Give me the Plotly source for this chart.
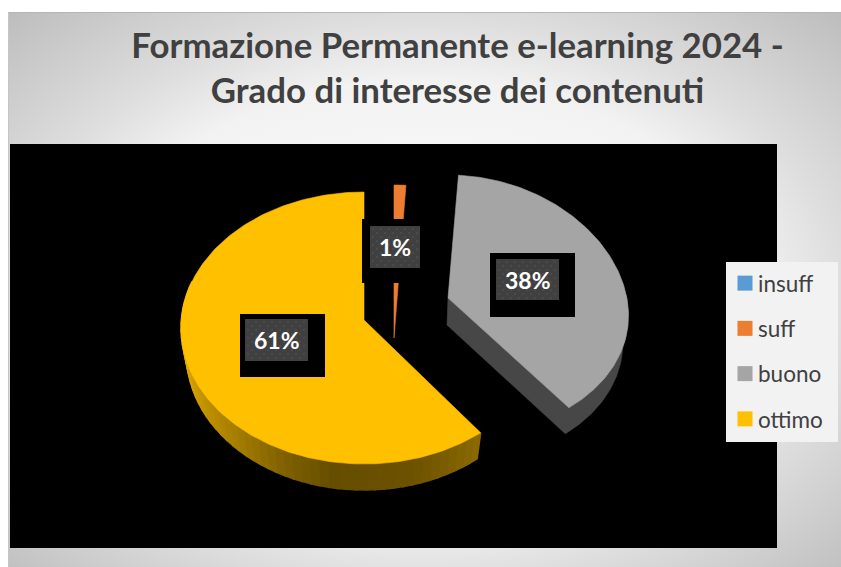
import base64
import math
import plotly.graph_objects as go

# ---- data ----
categories = ["insuff", "suff", "buono", "ottimo"]
values = [0, 1, 38, 61]
colors = ["#5B9BD5", "#ED7D31", "#A5A5A5", "#FFC000"]
title_lines = ["Formazione Permanente e-learning 2024 -", "Grado di interesse dei contenuti"]

# ---- drawing geometry (an exploded, tilted pie in page pixels) ----
W, H = 841, 567
GEOM = {  # apex, ellipse centre, radii, perspective
    "suff":   dict(ax=394, ay=338, cx=394, cy=326, rx=190, ry=141, p=0.0),
    "buono":  dict(ax=448, ay=298, cx=448, cy=306.5, rx=180, ry=131.5, p=0.07),
    "ottimo": dict(ax=364, ay=320, cx=364, cy=328, rx=183, ry=136, p=0.0),
}
DEPTH = 26
BOTTOM_SCALE = 0.97
LABEL_BOXES = {  # black box, dark box
    "suff":   ((362, 219, 434, 283), (370, 226, 420, 268)),
    "buono":  ((490, 253, 575, 317), (496, 259, 559, 300)),
    "ottimo": ((240, 314, 325, 377), (245, 319, 308, 361)),
}


def pt(g, deg, bottom=False):
    t = math.radians(deg)
    s = BOTTOM_SCALE if bottom else 1.0
    dy = DEPTH if bottom else 0
    m = 1 - g["p"] * math.cos(t)
    return g["cx"] + g["rx"] * s * math.sin(t) * m, g["cy"] + dy - g["ry"] * math.cos(t)


def arc(g, a0, a1, bottom=False, step=1.0):
    n = max(2, int(abs(a1 - a0) / step) + 1)
    return [pt(g, a0 + (a1 - a0) * i / (n - 1), bottom) for i in range(n)]


# slice angles from the values, clockwise from 12 o'clock
total = sum(values)
angles = {}
acc = 0.0
for c, v in zip(categories, values):
    angles[c] = (acc, acc + 360.0 * v / total)
    acc += 360.0 * v / total

fig = go.Figure()


def poly(points, color, name=None, lw=0.6):
    fig.add_trace(go.Scatter(
        x=[p[0] for p in points] + [points[0][0]],
        y=[p[1] for p in points] + [points[0][1]],
        mode="lines", line=dict(width=lw, color=color), fill="toself", fillcolor=color,
        hoverinfo="skip", showlegend=False, name=name))


def lerp_color(stops, x):
    for (x0, c0), (x1, c1) in zip(stops, stops[1:]):
        if x0 <= x <= x1:
            f = (x - x0) / (x1 - x0)
            return "rgb(%d,%d,%d)" % tuple(round(a + (b - a) * f) for a, b in zip(c0, c1))
    return "rgb(%d,%d,%d)" % stops[-1][1]


# black plot panel
poly([(10, 144), (777, 144), (777, 548), (10, 548)], "#000000", lw=0)

# ottimo: curved rim with metallic shading, then the top face
g = GEOM["ottimo"]
a0, a1 = angles["ottimo"]
rim_stops = [(a0, (140, 106, 0)), (165, (108, 82, 0)), (190, (102, 78, 0)), (205, (125, 95, 0)),
             (225, (165, 125, 0)), (250, (205, 155, 0)), (275, (235, 178, 0)), (290, (245, 185, 0))]
deg = a0
while deg < 290:
    nxt = min(deg + 3, 290)
    poly(arc(g, deg, nxt) + arc(g, nxt, deg, True), lerp_color(rim_stops, (deg + nxt) / 2), lw=1.5)
    deg = nxt
poly([(g["ax"], g["ay"])] + arc(g, a0, a1), colors[3], "ottimo")

# buono: dark rim and cut face, then top face
g = GEOM["buono"]
a0, a1 = angles["buono"]
poly([(g["ax"], g["ay"])] + arc(g, a1, 85) + arc(g, 85, a1, True) + [(g["ax"] - 1, g["ay"] + DEPTH + 1)], "#474747")
poly([(g["ax"], g["ay"])] + arc(g, a0, a1), colors[2], "buono")

# suff
g = GEOM["suff"]
a0, a1 = angles["suff"]
poly([(g["ax"], g["ay"])] + arc(g, a0, a1), colors[1], "suff")

# data labels: black box, dotted dark box, text
annotations = []
for c, v in zip(categories, values):
    if c not in LABEL_BOXES:
        continue
    (bx0, by0, bx1, by1), (dx0, dy0, dx1, dy1) = LABEL_BOXES[c]
    poly([(bx0, by0), (bx1, by0), (bx1, by1), (bx0, by1)], "#000000", lw=0)
    poly([(dx0, dy0), (dx1, dy0), (dx1, dy1), (dx0, dy1)], "#404040", lw=0)
    xs, ys = [], []
    row = 0
    y = dy0 + 3
    while y < dy1:
        x = dx0 + 3 + (4 if row % 2 else 0)
        while x < dx1:
            xs.append(x)
            ys.append(y)
            x += 8
        y += 4
        row += 1
    fig.add_trace(go.Scatter(x=xs, y=ys, mode="markers", hoverinfo="skip", showlegend=False,
                             marker=dict(size=2, color="#4E4E4E", line=dict(width=0))))
    annotations.append(dict(x=(dx0 + dx1) / 2, y=(dy0 + dy1) / 2, xref="x", yref="y", text=f"<b>{v}%</b>",
                            showarrow=False, font=dict(family="Lato", size=23, color="#FFFFFF")))

# legend entries
for i, (c, col) in enumerate(zip(categories, colors)):
    fig.add_trace(go.Scatter(x=[None], y=[None], mode="markers", name=c, legendgroup=c,
                             marker=dict(symbol="square", size=15, color=col, line=dict(width=0))))

bg_svg = f'''<svg xmlns="http://www.w3.org/2000/svg" width="{W-8}" height="{H-12}">
<defs><radialGradient id="g" cx="0.5" cy="0.52" r="0.72" gradientUnits="objectBoundingBox">
<stop offset="0" stop-color="#ffffff"/><stop offset="0.55" stop-color="#f2f2f2"/><stop offset="0.7" stop-color="#dedede"/><stop offset="1" stop-color="#bdbdbd"/>
</radialGradient></defs><rect width="100%" height="100%" fill="url(#g)"/></svg>'''
bg_uri = "data:image/svg+xml;base64," + base64.b64encode(bg_svg.encode()).decode()

fig.update_layout(
    width=W, height=H, margin=dict(l=0, r=0, t=0, b=0),
    paper_bgcolor="#FFFFFF", plot_bgcolor="rgba(0,0,0,0)",
    font=dict(family="Lato", color="#404040"),
    title=dict(text="<b>" + "<br>".join(title_lines) + "</b>", x=457.5 / W, xanchor="center",
               y=1 - 58 / H, yanchor="middle", font=dict(family="Lato", size=34.8, color="#404040")),
    xaxis=dict(range=[0, W], visible=False, fixedrange=True),
    yaxis=dict(range=[H, 0], visible=False, fixedrange=True),
    images=[dict(source=bg_uri, xref="x", yref="y", x=8, y=12, sizex=W - 8, sizey=H - 12,
                 xanchor="left", yanchor="top", sizing="stretch", layer="below")],
    shapes=[
        dict(type="rect", x0=726, x1=838, y0=262, y1=442, fillcolor="#F2F2F2", line=dict(width=0), layer="above"),
        dict(type="line", x0=8, x1=W, y0=12.5, y1=12.5, line=dict(color="#B5B5B5", width=1), layer="above"),
        dict(type="line", x0=8.5, x1=8.5, y0=12, y1=H, line=dict(color="#C5C5C5", width=1), layer="above"),
    ],
    annotations=annotations,
    legend=dict(x=718 / W, y=1 - 262 / H, xanchor="left", yanchor="top", bgcolor="rgba(0,0,0,0)",
                tracegroupgap=13, itemclick=False, itemdoubleclick=False,
                font=dict(family="Lato", size=22.5, color="#404040")),
    showlegend=True,
)

fig.write_html("out.html", config=dict(displayModeBar=False),
               post_script=("document.body.style.margin='0';"
                            "document.querySelectorAll('.legendsymbols').forEach(function(s){"
                            "s.setAttribute('transform','translate(7,0)');});"))
